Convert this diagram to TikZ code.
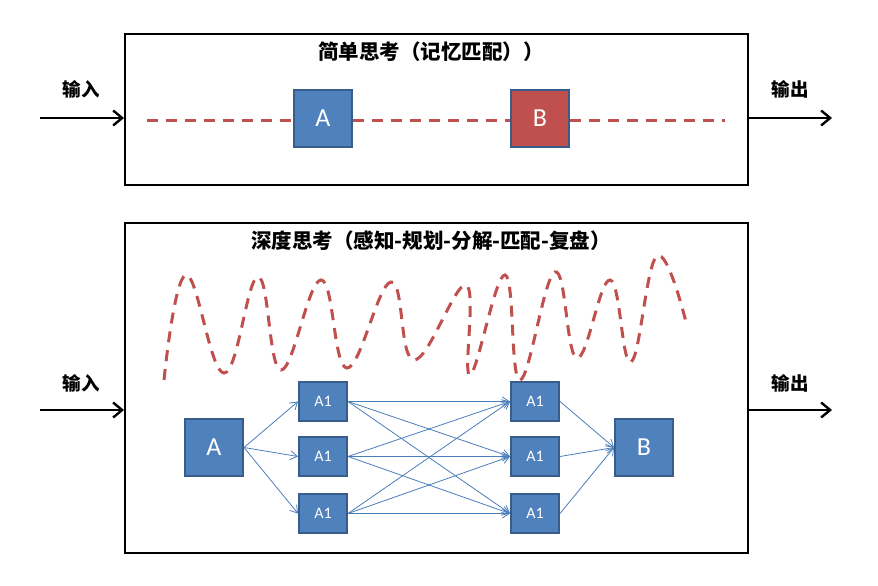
\documentclass[tikz,border=0pt]{standalone}
\usepackage{fontspec}
\setmainfont{Carlito}
\newfontfamily\cjk{Noto Sans CJK SC}
\usetikzlibrary{arrows.meta}
\definecolor{boxblue}{HTML}{4F81BD}
\definecolor{boxred}{HTML}{C0504D}
\definecolor{boxedge}{HTML}{385D8A}
\definecolor{linkblue}{HTML}{4A7EBB}
\definecolor{wavered}{HTML}{C0504D}
\tikzset{
  frame/.style={draw=black, line width=1.6pt},
  bigbox/.style={draw=boxedge, line width=2pt, fill=boxblue, minimum width=58pt, minimum height=57pt, inner sep=0pt, text=white, font=\fontsize{26}{30}\selectfont},
  smallbox/.style={draw=boxedge, line width=2pt, fill=boxblue, minimum width=48pt, minimum height=39pt, inner sep=0pt, text=white, font=\fontsize{16}{19}\selectfont},
  redbox/.style={bigbox, fill=boxred},
  title/.style={font=\cjk\bfseries\fontsize{20.5}{24}\selectfont, inner sep=0pt},
  label/.style={font=\cjk\bfseries\fontsize{18.5}{22}\selectfont, inner sep=0pt},
  ioarrow/.style={line width=2.4pt, -{Straight Barb[length=9pt,width=15pt,line width=2.4pt]}},
  link/.style={draw=linkblue, line width=0.8pt, -{Straight Barb[length=7pt,width=9pt]}},
  redwave/.style={draw=wavered, line width=3pt, dash pattern=on 11pt off 8pt},
}
\begin{document}
\begin{tikzpicture}[x=1pt,y=-1pt]
\useasboundingbox (0,0) rectangle (878,586);
% frames
\node[frame, minimum width=623pt, minimum height=151pt, inner sep=0pt, anchor=north west] (top) at (124,33) {};
\node[frame, minimum width=623pt, minimum height=330pt, inner sep=0pt, anchor=north west] (bot) at (124,222) {};
% titles
\node[title] (t1) at (431,52) {简单思考（记忆匹配））};
\node[title] (t2) at (431,241) {深度思考（感知-规划-分解-匹配-复盘）};
% io labels
\node[label] (in1) at (81,89) {输入};
\node[label] (out1) at (790,89) {输出};
\node[label] (in2) at (81,383) {输入};
\node[label] (out2) at (790,383) {输出};
% io arrows
\coordinate (s1) at (40,118);
\coordinate (e1) at (832,118);
\coordinate (s2) at (40,410);
\coordinate (e2) at (832,410);
\draw[ioarrow] (s1) -- (s1 -| top.west);
\draw[ioarrow] (top.east |- e1) -- (e1);
\draw[ioarrow] (s2) -- (s2 -| bot.west);
\draw[ioarrow] (bot.east |- e2) -- (e2);
% top row
\coordinate (d0) at (147,120);
\coordinate (d1) at (725,120);
\node[bigbox] (ta) at (323,118.5) {A};
\node[redbox] (tb) at (540,118.5) {B};
\draw[redwave] (d0) -- (ta.west |- d0);
\draw[redwave] (ta.east |- d0) -- (tb.west |- d0);
\draw[redwave] (tb.east |- d0) -- (d1);
% wave
\draw[redwave] plot[smooth, tension=0.7] coordinates {
 (164,380) (186,275) (224,373) (258,277) (281,370) (321,280) (347,368)
 (391,282) (414,360) (466,285) (470,375) (505,275) (520,380) (555,272)
 (577,358) (610,280) (631,362) (657,256) (686,322)};
% bottom network
\node[bigbox] (A) at (214,447.5) {A};
\node[bigbox] (B) at (644,447.5) {B};
\node[smallbox] (l1) at (323,401.5) {A1};
\node[smallbox] (l2) at (323,456.5) {A1};
\node[smallbox] (l3) at (323,513.5) {A1};
\node[smallbox] (r1) at (535,401.5) {A1};
\node[smallbox] (r2) at (535,456.5) {A1};
\node[smallbox] (r3) at (535,513.5) {A1};
\foreach \l in {l1,l2,l3} {\draw[link] (A.east) -- (\l.west);}
\foreach \l in {l1,l2,l3} {\foreach \r in {r1,r2,r3} {\draw[link] (\l.east) -- (\r.west);}}
\foreach \r in {r1,r2,r3} {\draw[link] (\r.east) -- (B.west);}
\end{tikzpicture}
\end{document}
